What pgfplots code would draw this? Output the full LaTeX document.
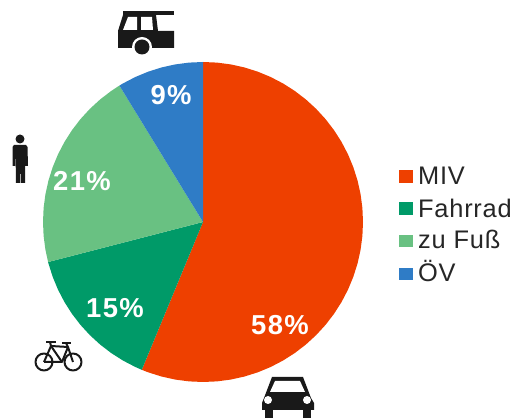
\documentclass[border=0pt]{standalone}
\usepackage{pgfplots}
\pgfplotsset{compat=1.18}
\usepackage{fontspec}
\setmainfont{Liberation Sans}
\newfontfamily\legfont[LetterSpace=3]{Liberation Sans}
\newfontfamily\pctfont[LetterSpace=5]{Liberation Sans Bold}
\definecolor{miv}{HTML}{EE4000}
\definecolor{rad}{HTML}{009A68}
\definecolor{fuss}{HTML}{69C182}
\definecolor{oev}{HTML}{2F7CC6}
\begin{document}
\begin{tikzpicture}
\begin{axis}[
    scale only axis,
    width=513bp, height=418bp,
    xmin=-203, xmax=310,
    ymin=-196, ymax=222,
    hide axis,
    clip=false,
    data cs=polar,
]
% MIV
\addplot[fill=miv, draw=none] coordinates {
    (0,0) (90,160) (85,160) (80,160) (75,160) (70,160) (65,160) (60,160) (55,160) (50,160)
    (45,160) (40,160) (35,160) (30,160) (25,160) (20,160) (15,160) (10,160) (5,160) (0,160)
    (-5,160) (-10,160) (-15,160) (-20,160) (-25,160) (-30,160) (-35,160) (-40,160) (-45,160)
    (-50,160) (-55,160) (-60,160) (-65,160) (-70,160) (-75,160) (-80,160) (-85,160) (-90,160)
    (-95,160) (-100,160) (-105,160) (-110,160) (-112.5,160) (0,0)
};
% Fahrrad
\addplot[fill=rad, draw=none] coordinates {
    (0,0) (247.5,160) (245,160) (240,160) (235,160) (230,160) (225,160) (220,160) (215,160)
    (210,160) (205,160) (200,160) (195,160) (194.5,160) (0,0)
};
% zu Fuss
\addplot[fill=fuss, draw=none] coordinates {
    (0,0) (194.5,160) (190,160) (185,160) (180,160) (175,160) (170,160) (165,160) (160,160)
    (155,160) (150,160) (145,160) (140,160) (135,160) (130,160) (125,160) (121.5,160) (0,0)
};
% OeV
\addplot[fill=oev, draw=none] coordinates {
    (0,0) (121.5,160) (120,160) (115,160) (110,160) (105,160) (100,160) (95,160) (90,160) (0,0)
};
\end{axis}
% pixel coordinates of the reference from here on
\begin{scope}[shift={(0,418bp)}, x=1bp, y=-1bp]
  % percent labels
  \node[white, font=\pctfont\fontsize{27.5}{28}\selectfont] at (171,95) {9\%};
  \node[white, font=\pctfont\fontsize{27.5}{28}\selectfont] at (82,181) {21\%};
  \node[white, font=\pctfont\fontsize{27.5}{28}\selectfont] at (115,308) {15\%};
  \node[white, font=\pctfont\fontsize{27.5}{28}\selectfont] at (280,325) {58\%};
  % legend
  \fill[miv]  (399,170) rectangle (413,183);
  \fill[rad]  (399,202) rectangle (413,215);
  \fill[fuss] (399,235) rectangle (413,247);
  \fill[oev]  (399,268) rectangle (413,280);
  \foreach \yy/\tt in {185/MIV, 218/Fahrrad, 249/zu Fuß, 282/ÖV}
    \node[anchor=base west, inner sep=0pt, text=black!85, font=\legfont\fontsize{25.5}{26}\selectfont] at (418,\yy) {\tt};
  % bus
  \fill[black!90] (123,11) rectangle (174,15);
  \fill[black!90] (123,15) -- (118,31) -- (118,48) -- (174,48) -- (174,31) -- (158,31) -- (156,15) -- cycle;
  \fill[white] (128,17) -- (137,17) -- (137,30) -- (123,30) -- cycle;
  \fill[white] (141,17) -- (152,17) -- (153,30) -- (141,30) -- cycle;
  \fill[white] (142,47) circle (10);
  \fill[black!90] (142,47) circle (7.5);
  % person
  \fill[black!90] (20,139) circle (4.5);
  \fill[black!90] (14,145) -- (26,145) -- (27.5,147) -- (28,166) -- (25.5,166) -- (25,152)
     -- (25,183) -- (21,183) -- (20.5,165) -- (20,183) -- (16,183) -- (15.5,152) -- (15,166)
     -- (12.5,166) -- (12.5,147) -- cycle;
  % bicycle
  \begin{scope}[black!90, line width=2pt, line join=round]
    \draw (44,362) circle (8.5);
    \draw (73,362) circle (8.5);
    \draw (44,362) -- (51,346) -- (68,347) -- (73,362);
    \draw (44,362) -- (62,362) -- (68,347);
    \draw (51,346) -- (62,362);
    \draw (46,342) -- (56,342);
    \draw (50,342) -- (51,346);
    \draw (62,343) -- (71,343);
    \draw (66,343) -- (68,347);
  \end{scope}
  % car
  \fill[black!90] (272,377) -- (303,377) -- (311,398) -- (314,403) -- (314,410) -- (262,410) -- (262,403) -- (264,398) -- cycle;
  \fill[white] (275,381) -- (300,381) -- (305,392) -- (270,392) -- cycle;
  \fill[white] (268,400) circle (4);
  \fill[white] (307,400) circle (4);
  \fill[black!90] (265,410) rectangle (273,418);
  \fill[black!90] (303,410) rectangle (311,418);
\end{scope}
\pgfresetboundingbox
\path[use as bounding box] (0,0) rectangle (513bp,418bp);
\end{tikzpicture}
\end{document}
